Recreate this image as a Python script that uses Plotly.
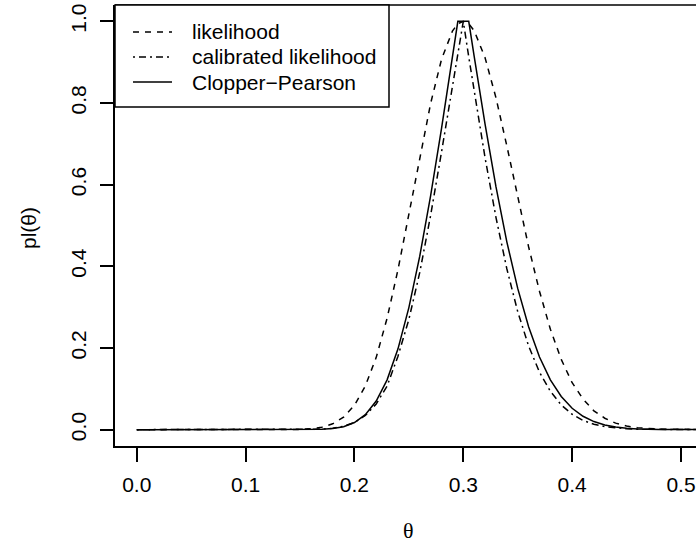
import plotly.graph_objects as go

# values
theta = [0.00, 0.05, 0.10, 0.14, 0.15, 0.16, 0.17, 0.18, 0.19, 0.20, 0.21, 0.22, 0.23, 0.24,
         0.25, 0.26, 0.27, 0.28, 0.29, 0.295, 0.30, 0.305, 0.31, 0.32, 0.33, 0.34, 0.35, 0.36,
         0.37, 0.38, 0.39, 0.40, 0.41, 0.42, 0.43, 0.44, 0.45, 0.46, 0.48, 0.50, 0.52, 0.55]

likelihood = [0, 0, 0, 0.0002, 0.0007, 0.0023, 0.006, 0.0143, 0.0306, 0.0598, 0.107, 0.177,
              0.273, 0.392, 0.527, 0.668, 0.799, 0.907, 0.976, 0.994, 1.0, 0.994, 0.977, 0.911,
              0.813, 0.695, 0.570, 0.448, 0.339, 0.246, 0.172, 0.115, 0.075, 0.046, 0.028, 0.016,
              0.009, 0.0048, 0.0012, 0.0003, 0.0001, 0]

calibrated = [0, 0, 0, 0, 0.0001, 0.0005, 0.0014, 0.0036, 0.0083, 0.0176, 0.0346, 0.063,
              0.107, 0.18, 0.27, 0.385, 0.525, 0.68, 0.84, 0.915, 1.0, 0.913, 0.828, 0.666,
              0.520, 0.394, 0.289, 0.205, 0.141, 0.094, 0.0605, 0.0377, 0.0227, 0.0132, 0.0075,
              0.0041, 0.0021, 0.001, 0.0002, 0, 0, 0]

clopper_pearson = [0, 0, 0, 0, 0.0001, 0.0002, 0.0009, 0.0028, 0.0074, 0.0175, 0.0369, 0.070,
                   0.122, 0.198, 0.299, 0.425, 0.573, 0.738, 0.912, 1.0, 1.0, 1.0, 0.914, 0.748,
                   0.595, 0.460, 0.346, 0.252, 0.178, 0.122, 0.0813, 0.0525, 0.0328, 0.0198,
                   0.0116, 0.0065, 0.0036, 0.0019, 0.0005, 0.0001, 0, 0]

x_ticks = [0.0, 0.1, 0.2, 0.3, 0.4, 0.5]
y_ticks = [0.0, 0.2, 0.4, 0.6, 0.8, 1.0]
legend_names = ["likelihood", "calibrated likelihood", "Clopper\u2212Pearson"]

FONT = "Liberation Sans, Arial, sans-serif"
DASH_LIK = "6px,6px"
DASH_CAL = "2px,4px,7px,4px"

fig = go.Figure()
series = [(likelihood, DASH_LIK), (calibrated, DASH_CAL), (clopper_pearson, "solid")]
for (vals, dash), name in zip(series, legend_names):
    fig.add_trace(go.Scatter(x=theta, y=vals, mode="lines", name=name, showlegend=False,
                             line=dict(color="black", width=1.5, dash=dash)))

# plot area in pixels: x 115..696, y 5..446
L, R, T, B = 115, 696, 5, 446
W, H = R - L, B - T


def px(x):
    return (x - L) / W


def py(y):
    return (B - y) / H


# top border of the box (right side is cut off in the reference)
fig.add_shape(type="line", xref="paper", yref="paper", x0=0, x1=1, y0=1, y1=1,
              line=dict(color="black", width=1.5))

# hand-made legend box, like R's legend("topleft")
fig.add_shape(type="rect", xref="paper", yref="paper", x0=0, x1=px(389), y0=py(107), y1=1,
              line=dict(color="black", width=1.5), fillcolor="white", layer="above")
for i, (name, dash) in enumerate(zip(legend_names, [DASH_LIK, DASH_CAL, "solid"])):
    yy = py(32 + 25 * i)
    fig.add_shape(type="line", xref="paper", yref="paper", x0=px(133), x1=px(172), y0=yy, y1=yy,
                  line=dict(color="black", width=1.5, dash=dash))
    fig.add_annotation(x=px(190), y=yy, xref="paper", yref="paper", text=name, showarrow=False,
                       xanchor="left", yanchor="middle", font=dict(family=FONT, size=21, color="black"))

# axis titles
fig.add_annotation(x=px(408), y=py(530), xref="paper", yref="paper", text="\u03b8", showarrow=False,
                   xanchor="center", yanchor="middle",
                   font=dict(family="Liberation Serif, Times New Roman, serif", size=22, color="black"))
fig.add_annotation(x=px(28), y=py(228), xref="paper", yref="paper", text="pl(\u03b8)", showarrow=False,
                   xanchor="center", yanchor="middle", textangle=-90,
                   font=dict(family=FONT, size=21, color="black"))

fig.update_xaxes(range=[-0.02, 0.5138], showgrid=False, zeroline=False,
                 showline=True, linecolor="black", linewidth=1.5,
                 ticks="outside", ticklen=14, tickwidth=1.5, tickcolor="black",
                 tickvals=x_ticks, ticktext=[f"{v:.1f}" for v in x_ticks],
                 tickfont=dict(family=FONT, size=21, color="black"), ticklabelstandoff=5)
fig.update_yaxes(range=[-0.04, 1.04], showgrid=False, zeroline=False,
                 showline=True, linecolor="black", linewidth=1.5,
                 ticks="outside", ticklen=13, tickwidth=1.5, tickcolor="black",
                 tickvals=y_ticks, ticktext=[f"{v:.1f}" for v in y_ticks], tickangle=-90,
                 tickfont=dict(family=FONT, size=21, color="black"), ticklabelstandoff=6)

fig.update_layout(width=696, height=546, autosize=False,
                  margin=dict(l=L, r=0, t=T, b=546 - B),
                  paper_bgcolor="white", plot_bgcolor="white",
                  showlegend=False)

# the page's default 8px body margin would shift the figure; remove it
fig.write_html("out.html", config={"displayModeBar": False},
               post_script="document.body.style.margin='0px';document.body.style.overflow='hidden';")
